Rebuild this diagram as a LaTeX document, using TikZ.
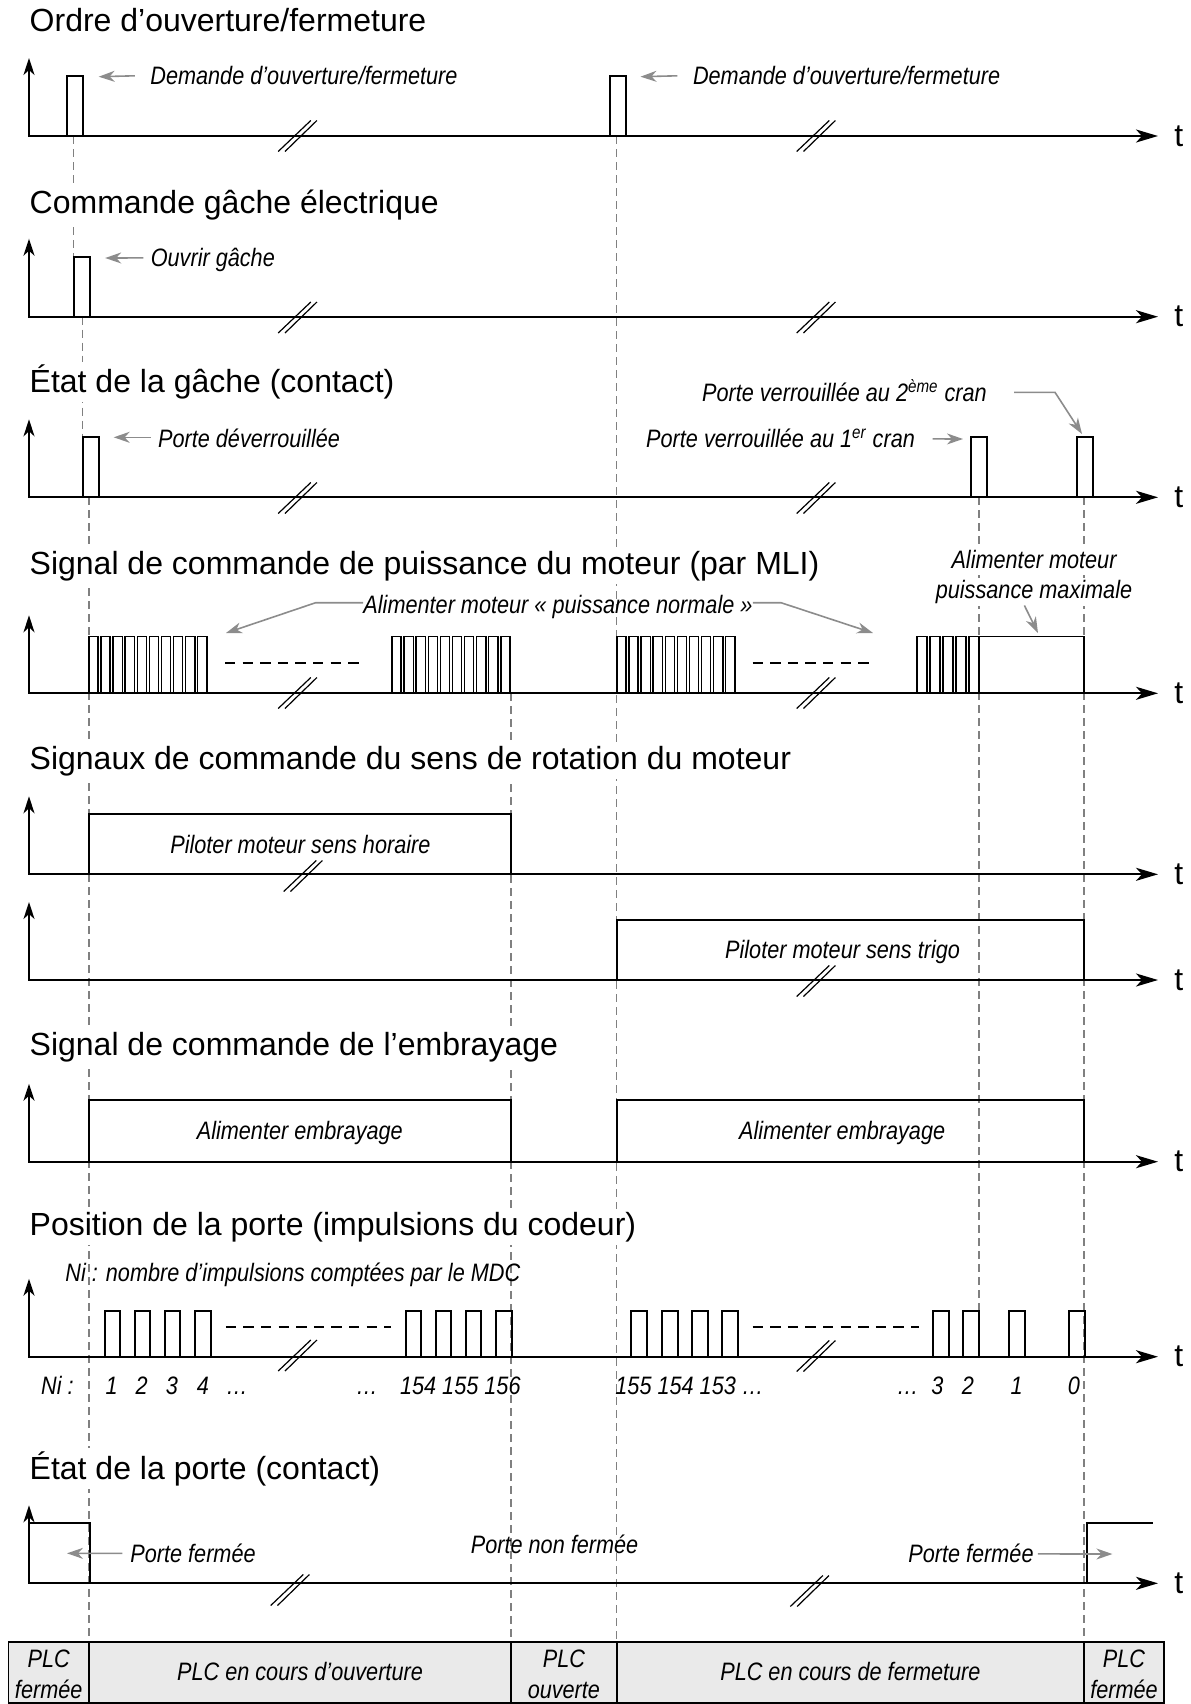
\documentclass[tikz,border=0pt]{standalone}
\usepackage{fontspec}
\setmainfont{Liberation Sans}
\newfontfamily\lblfont[FakeStretch=0.86]{Liberation Sans}
\usetikzlibrary{arrows.meta}
\definecolor{dashgray}{HTML}{808080}
\definecolor{arrgray}{HTML}{8C8C8C}
\definecolor{cellgray}{HTML}{EAEAEA}
\tikzset{
 axes/.style={line width=1.1pt, arrows={Stealth[length=8.5pt,width=5.5pt,inset=2.5pt]-Stealth[length=11pt,width=6.5pt,inset=3pt]}},
 sig/.style={line width=1pt},
 pwm/.style={line width=0.7pt},
 blk/.style={line width=1.1pt},
 vdash/.style={draw=dashgray,line width=0.6pt,dash pattern=on 4pt off 2.5pt},
 hdash/.style={line width=1.1pt,dash pattern=on 5.2pt off 3.6pt},
 garrow/.style={draw=arrgray,line width=0.8pt,-{Stealth[length=8pt,width=5.5pt,inset=2.5pt]}},
 brkline/.style={line width=0.6pt},
 ttl/.style={font=\fontsize{16}{19}\selectfont,anchor=base west,inner sep=1.5pt,fill=white},
 lbl/.style={font=\lblfont\fontsize{12.6}{15}\selectfont\itshape,inner sep=0pt},
 lblw/.style={lbl,anchor=base west},
 lblc/.style={lbl,anchor=base},
 tlab/.style={font=\fontsize{16}{19}\selectfont,anchor=west,inner sep=0pt},
}
\newcommand\tdaxis[2]{\draw[axes] (29,#2-78) -- (29,#2) -- (1158,#2); \node[tlab] (t#1) at (1174,#2) {t};}
\newcommand\tdbrk[2]{\draw[brkline] (#1-19.3,#2+15.5) -- (#1+13.3,#2-15.5) (#1-12.5,#2+15.5) -- (#1+19.4,#2-15.5);}
\begin{document}
\begin{tikzpicture}[x=0.5pt,y=-0.5pt]
\useasboundingbox (0,0) rectangle (1190,1704);

% ---------- dashed time markers ----------
\draw[vdash] (73.5,136) -- (73.5,256.7);
\draw[vdash] (82.5,316.7) -- (82.5,437.3);
\draw[vdash] (89,497.3) -- (89,1642.3);
\draw[vdash] (511,693.3) -- (511,1642.3);
\draw[vdash] (616.8,136) -- (616.8,1642.3);
\draw[vdash] (979,497.3) -- (979,1311);
\draw[vdash] (1084,497.3) -- (1084,1642.3);

% ---------- axes ----------
\tdaxis{1}{136}
\tdaxis{2}{316.7}
\tdaxis{3}{497.3}
\tdaxis{4}{693.3}
\tdaxis{5}{874.3}
\tdaxis{6}{980}
\tdaxis{7}{1161.7}
\tdaxis{8}{1356.7}
\tdaxis{9}{1583.3}

% ---------- breaks ----------
\tdbrk{297.5}{136}\tdbrk{816}{136}
\tdbrk{297.5}{317.5}\tdbrk{816}{317.5}
\tdbrk{297.5}{498}\tdbrk{816}{498}
\tdbrk{297.5}{693}\tdbrk{816}{693}
\tdbrk{303}{876}
\tdbrk{816}{981}
\tdbrk{297.5}{1355.5}\tdbrk{816}{1356}
\tdbrk{290}{1590}\tdbrk{809.6}{1591}

% ---------- row 1 : order ----------
\draw[sig] (67,136) rectangle (83,75.7);
\draw[sig] (610,136) rectangle (625.6,75.7);
\node[lblw] (lbD1) at (150,84.8) {Demande d’ouverture/fermeture};
\node[lblw] (lbD2) at (692.6,84.8) {Demande d’ouverture/fermeture};
\coordinate (tipD1) at (98.7,76.7);
\coordinate (tipD2) at (640.5,76.7);
\draw[garrow] ([shift={(-7.6pt,4.5pt)}]lbD1.base west) -- (tipD1);
\draw[garrow] ([shift={(-7.6pt,4.5pt)}]lbD2.base west) -- (tipD2);

% ---------- row 2 : gache command ----------
\draw[sig] (73.5,316.7) rectangle (89.5,256.7);
\node[lblw] (lbO) at (150.4,266.5) {Ouvrir gâche};
\coordinate (tipO) at (105.2,258);
\draw[garrow] ([shift={(-3.5pt,4.3pt)}]lbO.base west) -- (tipO);

% ---------- row 3 : gache state ----------
\draw[sig] (82.5,497.3) rectangle (98.5,437.3);
\draw[sig] (971,497.3) rectangle (987,437.3);
\draw[sig] (1076.5,497.3) rectangle (1092.5,437.3);
\node[lblw] (lbDv) at (157.7,447.5) {Porte déverrouillée};
\coordinate (tipDv) at (113.7,437.3);
\draw[garrow] ([shift={(-3.6pt,5.1pt)}]lbDv.base west) -- (tipDv);
\node[lbl,anchor=base east] (lbV1) at (915.3,447.5) {Porte verrouillée au 1\textsuperscript{er} cran};
\coordinate (tipV1) at (963,439);
\draw[garrow] ([shift={(8.6pt,4.3pt)}]lbV1.base east) -- (tipV1);
\node[lblw] (lbV2) at (701.7,401.5) {Porte verrouillée au 2\textsuperscript{ème} cran};
\coordinate (tipV2) at (1082,434);
\draw[garrow] ([shift={(13.5pt,4.6pt)}]lbV2.base east) -- (1055,392.3) -- (tipV2);

% ---------- row 4 : PWM ----------
\foreach \s in {88.8,391.9,616.8}{
  \foreach \i in {0,...,9}{
    \draw[pwm] ({\s+\i*12.1},693.3) rectangle ++(9.2,-56.6);
  }
}
\foreach \i in {0,...,4}{
  \draw[pwm] ({917+\i*13},693.3) rectangle ++(10,-56.6);
}
\draw[pwm] (979,693.3) rectangle (1084,636.7);
\draw[hdash] (225,663.3) -- (361,663.3);
\draw[hdash] (752.6,663.3) -- (871,663.3);
\node[lblc] (lbN) at (558,613.5) {Alimenter moteur «~puissance normale~»};
\coordinate (tipN1) at (226,633);
\coordinate (tipN2) at (873,633);
\draw[garrow] ([yshift=5.4pt]lbN.base west) -- (315.7,602.7) -- (tipN1);
\draw[garrow] ([yshift=5.4pt]lbN.base east) -- (781,602.7) -- (tipN2);
\node[lblc,fill=white,inner sep=1pt] (lbM1) at (1034,568.5) {Alimenter moteur};
\node[lblc,fill=white,inner sep=1pt] (lbM2) at (1034,598.5) {puissance maximale};
\coordinate (tipM) at (1038,633);
\draw[garrow] ([shift={(-4.8pt,-3.5pt)}]lbM2.base) -- (tipM);

% ---------- row 5 : direction ----------
\draw[blk] (89,874.3) rectangle (511,814.3);
\node[lblc] (lbH) at (300.4,853.5) {Piloter moteur sens horaire};
\draw[blk] (616.8,980) rectangle (1084,920);
\node[lblc] (lbT) at (842.6,958.5) {Piloter moteur sens trigo};

% ---------- row 6 : clutch ----------
\draw[blk] (89,1161.7) rectangle (511,1100);
\draw[blk] (616.8,1161.7) rectangle (1084,1100);
\node[lblc] (lbE1) at (299.8,1139.5) {Alimenter embrayage};
\node[lblc] (lbE2) at (842.2,1139.5) {Alimenter embrayage};

% ---------- row 7 : encoder ----------
\foreach \a/\b in {104.5/120,134.5/150,164.5/180,195/210.5,405.5/421,435.5/451,465.5/481,496/511.5,
                   631/647,662/677.5,692/707.5,722/738,933/949,963/979,1009/1025,1069/1085}{
  \draw[sig] (\a,1356.7) rectangle (\b,1311);
}
\draw[hdash] (225.8,1326.7) -- (391,1326.7);
\draw[hdash] (752.6,1326.7) -- (919,1326.7);
\node[lblw] (lbNi) at (65,1281.5) {Ni : nombre d’impulsions comptées par le MDC};
\foreach \x/\t [count=\k] in {57.4/Ni :,111.7/1,141.6/2,172/3,203/4,237/…,367/…,
                  907.6/…,937.5/3,968/2,1016.7/1,1074/0}{
  \node[lblc] (num\k) at (\x,1394.5) {\t};
}
\node[lbl,anchor=base east] (numA) at (521,1394.5) {154 155 156};
\node[lbl,anchor=base west] (numB) at (615,1394.5) {155 154 153 …};

% ---------- row 8 : door state ----------
\draw[blk] (29,1523.3) -- (90,1523.3) -- (90,1583.3);
\draw[blk] (1086.7,1583.3) -- (1086.7,1523.3) -- (1152.6,1523.3);
\node[lblw] (lbF1) at (130,1562) {Porte fermée};
\coordinate (tipF1) at (67,1553.3);
\draw[garrow] ([shift={(-3.8pt,4.3pt)}]lbF1.base west) -- (tipF1);
\node[lblc] (lbNF) at (554.6,1553.5) {Porte non fermée};
\node[lbl,anchor=base east] (lbF2) at (1034,1562.5) {Porte fermée};
\coordinate (tipF2) at (1112.4,1554);
\draw[garrow] ([shift={(1.9pt,4.3pt)}]lbF2.base east) -- (tipF2);

% ---------- phase table ----------
\draw[line width=0.9pt,fill=cellgray] (8.4,1642.3) rectangle (1164,1703);
\foreach \x in {89,511,616.8,1084}{\draw[line width=0.9pt] (\x,1642.3) -- (\x,1703);}
\node[lblc] (c1a) at (48.7,1667) {PLC};
\node[lblc] (c1b) at (48.7,1698.5) {fermée};
\node[lblc] (c2) at (300,1680.5) {PLC en cours d’ouverture};
\node[lblc] (c3a) at (563.9,1667) {PLC};
\node[lblc] (c3b) at (563.9,1698.5) {ouverte};
\node[lblc] (c4) at (850.4,1680.5) {PLC en cours de fermeture};
\node[lblc] (c5a) at (1124,1667) {PLC};
\node[lblc] (c5b) at (1124,1698.5) {fermée};

% ---------- titles (white background masks the markers) ----------
\node[ttl] (ti1) at (26.3,31.5) {Ordre d’ouverture/fermeture};
\node[ttl] (ti2) at (26.3,213.5) {Commande gâche électrique};
\node[ttl] (ti3) at (26.3,392.5) {État de la gâche (contact)};
\node[ttl] (ti4) at (26.3,574) {Signal de commande de puissance du moteur (par MLI)};
\node[ttl] (ti5) at (26.3,769.5) {Signaux de commande du sens de rotation du moteur};
\node[ttl] (ti6) at (26.3,1055) {Signal de commande de l’embrayage};
\node[ttl] (ti7) at (26.3,1235) {Position de la porte (impulsions du codeur)};
\node[ttl] (ti8) at (26.3,1479) {État de la porte (contact)};
\end{tikzpicture}
\end{document}
